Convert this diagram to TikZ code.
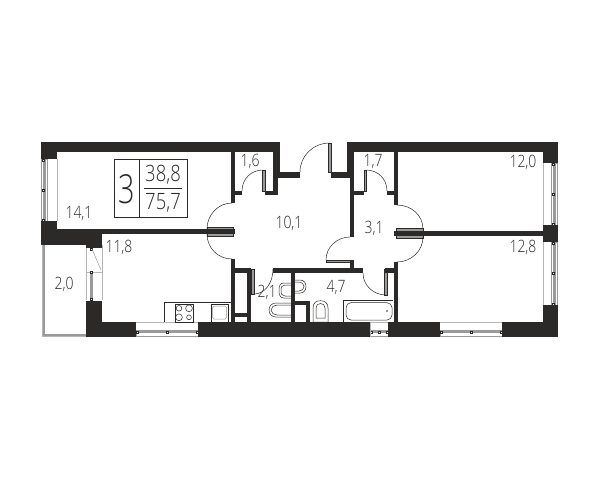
\documentclass[tikz,border=0pt]{standalone}
\usepackage{fontspec}
\setmainfont{Liberation Sans}
\newfontfamily\planfont[FakeStretch=0.82,UprightFont={* Light}]{Open Sans}
\newfontfamily\numfont[FakeStretch=0.72,UprightFont={* Light}]{Open Sans}
\definecolor{wallc}{HTML}{2B2A29}
\definecolor{leafc}{HTML}{9A9A9A}
\definecolor{sillc}{HTML}{B5B5B5}

% window seen from the side: sill x, glass x, y from, y to
\newcommand{\winv}[4]{
  \draw[sill] (#1,#3) -- (#1,#4);
  \draw[frame] (#2-1,#3) rectangle (#2+5,#4);
  \fill[leafc] (#2,#3) rectangle (#2+3,#4);
  \draw[pin,fill=white] (#2,#3) rectangle +(2,2);
  \draw[pin,fill=white] (#2,{(#3+#4)/2-1}) rectangle +(2,2);
  \draw[pin,fill=white] (#2,#4-2) rectangle +(2,2);
}
% window in the bottom wall: x from, x to
\newcommand{\winh}[2]{
  \draw[sill] (#1,322) -- (#2,322);
  \draw[frame] (#1,330) rectangle (#2,336.5);
  \fill[leafc] (#1,330.5) rectangle (#2,333);
  \draw[pin,fill=white] (#1,331) rectangle +(2,2);
  \draw[pin,fill=white] ({(#1+#2)/2-1},331) rectangle +(2,2);
  \draw[pin,fill=white] (#2-2,331) rectangle +(2,2);
}

\begin{document}
\begin{tikzpicture}[x=1pt,y=-1pt,
    wall/.style={fill=wallc,draw=none},
    leaf/.style={fill=leafc,draw=wallc,line width=0.4pt},
    swing/.style={draw=wallc,line width=0.5pt},
    sill/.style={draw=sillc,line width=0.6pt},
    frame/.style={draw=leafc,line width=0.5pt},
    pin/.style={draw=wallc,line width=0.4pt},
    fitting/.style={draw=wallc,line width=0.5pt},
    area/.style={anchor=base,text=wallc,font=\planfont\fontsize{17}{18}\selectfont},
    share/.style={anchor=base,text=wallc,font=\planfont\fontsize{22.5}{23}\selectfont}
    ]
\useasboundingbox (0,0) rectangle (600,480);

% balcony
\draw[draw=leafc,line width=1.2pt] (44,245) -- (44,335) -- (86,335);
\draw[sill] (42,245) -- (42,336.5) -- (86,336.5);

% windows
\winv{57}{42.5}{159}{221}
\winv{543}{552.5}{163}{225}
\winv{543}{552.5}{242}{305}
\winh{136}{198}
\winh{440}{502}
\winh{370}{388}
\draw[sill] (370,322) -- (370,337);
\draw[sill] (388,322) -- (388,337);

% balcony door
\draw[sill] (86,245) -- (86,300);
\draw[sill] (102,245) -- (102,300);
\draw[sill] (86,272) -- (102,272);
\fill[leafc] (89.5,272) rectangle (92.5,300);
\draw[pin,fill=white] (90,248) rectangle +(2,2);
\draw[pin,fill=white] (90,271) rectangle +(2,2);
\draw[pin,fill=white] (90,298) rectangle +(2,2);
\draw[draw=leafc,line width=0.5pt] (92,249) -- (101,270);

% door leaves
\draw[leaf] (207,227) rectangle (233,236);
\draw[leaf] (396,228) rectangle (423,238);
\draw[leaf] (328,143) rectangle (331,172);
\draw[leaf] (262.5,170) rectangle (265,191);
\draw[leaf] (364,170) rectangle (366.5,191);
\draw[leaf] (326,260) rectangle (350,262.5);
\draw[leaf] (384,269) rectangle (387,295);
\draw[leaf] (251,269) rectangle (254,294);

% door swings
\draw[swing] (300,172) .. controls (300,156) and (313,143) .. (330,143);
\draw[swing] (242,191) .. controls (242,179) and (251,170) .. (263,170);
\draw[swing] (387,191) .. controls (387,179) and (378,170) .. (366,170);
\draw[swing] (232,203) .. controls (218,203) and (207,215) .. (207,229);
\draw[swing] (207,234) .. controls (207,248) and (218,259) .. (232,259);
\draw[swing] (397,205) .. controls (411,205) and (423,215) .. (423,229);
\draw[swing] (423,237) .. controls (423,251) and (411,262) .. (397,262);
\draw[swing] (326,260) .. controls (326,247) and (337,237) .. (350,237);
\draw[swing] (363,273) .. controls (363,285) and (373,295) .. (386,295);
\draw[swing] (254,294) .. controls (265,294) and (273,283) .. (273,269);

% walls
\fill[wall] (41,142) rectangle (280,151.5);
\fill[wall] (347,142) rectangle (558,151.5);
\fill[wall] (41,142) rectangle (57,159);
\fill[wall] (543,142) rectangle (558,163);
\fill[wall] (41,221) rectangle (57,233);
\fill[wall] (41,229) rectangle (207,233.5);
\fill[wall] (41,233) rectangle (102,245);
\fill[wall] (86,245) rectangle (102,248);
\fill[wall] (86,300.5) rectangle (102,337);
\fill[wall] (86,322) rectangle (136,337);
\fill[wall] (198,322) rectangle (370,337);
\fill[wall] (388,322) rectangle (440,337);
\fill[wall] (502,322) rectangle (558,337);
\fill[wall] (543,305) rectangle (558,337);
\fill[wall] (543,225) rectangle (558,242);
\fill[wall] (207,229) rectangle (235,234);
\fill[wall] (394,231) rectangle (543,236);
\fill[wall] (231,151) rectangle (235,203);
\fill[wall] (235,191) rectangle (242,195);
\fill[wall] (265,191) rectangle (278,195);
\fill[wall] (273,151) rectangle (278,195);
\fill[wall] (273,151) rectangle (280,172);
\fill[wall] (273,172) rectangle (300,178);
\fill[wall] (331,172) rectangle (354,178);
\fill[wall] (347,151) rectangle (354,172);
\fill[wall] (350,172) rectangle (354,237);
\fill[wall] (354,191) rectangle (364,195);
\fill[wall] (387,191) rectangle (398,195);
\fill[wall] (394,151) rectangle (398,205);
\fill[wall] (394,262) rectangle (398,322);
\fill[wall] (385,268) rectangle (398,273);
\fill[wall] (273,268) rectangle (363,273);
\fill[wall] (350,260) rectangle (354,268);
\fill[wall] (231,259) rectangle (235,322);
\fill[wall] (231,268) rectangle (251,273);
\fill[wall] (247,268) rectangle (251,322);
\fill[wall] (235,312.5) rectangle (247,317);
\fill[wall] (291,268) rectangle (295,322);
\fill[wall] (295,301) rectangle (310,305);
\fill[wall] (306,301) rectangle (310,322);

% kitchen
\draw[fitting] (231,302.5) -- (164,302.5) -- (164,322);
\draw[fitting] (175,304) rectangle (193,322);
\draw[fitting] (179,308.3) circle (2.8);
\draw[fitting] (189,308.3) circle (3.4);
\draw[fitting] (179,317.3) circle (3.4);
\draw[fitting] (189,317.3) circle (2.4);
\draw[fitting] (211,304) rectangle (228,322);
\draw[fitting,rounded corners=1.5pt,draw=leafc] (212.5,306) rectangle (226.5,319);

% bathroom
\draw[fitting] (343,322) -- (343,300.7) -- (393,300.7);
\draw[fitting,rounded corners=5pt] (346,302.7) rectangle (392,320);
\fill[wallc] (387,311) circle (0.9);
\draw[fitting] (291,283) -- (284,283) .. controls (280,283) and (279,286) .. (279,290.5) .. controls (279,295) and (280,298) .. (284,298) -- (291,298);
\draw[fitting] (291,285) -- (285,285) .. controls (282,285) and (281,287) .. (281,290.5) .. controls (281,294) and (282,296) .. (285,296) -- (291,296);
\draw[fitting] (295,280) -- (300,280) .. controls (304,280) and (306,283) .. (306,286.5) .. controls (306,290) and (304,293) .. (300,293) -- (295,293);
\draw[fitting] (295,282) -- (299,282) .. controls (302,282) and (304,284) .. (304,286.5) .. controls (304,289) and (302,291) .. (299,291) -- (295,291);
\draw[fitting] (291,303) -- (276,303) .. controls (272,303) and (269,306) .. (269,310) .. controls (269,314) and (272,317) .. (276,317) -- (291,317);
\draw[fitting] (291,305) -- (277,305) .. controls (274,305) and (271,307) .. (271,310) .. controls (271,313) and (274,315) .. (277,315) -- (291,315);
\draw[fitting] (313,322) -- (313,308) .. controls (313,303) and (316,300.7) .. (320.5,300.7) .. controls (325,300.7) and (328,303) .. (328,308) -- (328,322) -- cycle;
\draw[fitting] (316,318) -- (316,308) .. controls (316,305) and (318,303.5) .. (320.5,303.5) .. controls (323,303.5) and (325,305) .. (325,308) -- (325,318) -- cycle;

% legend
\node[draw=wallc,line width=0.7pt,minimum width=72.5pt,minimum height=57.5pt,inner sep=0pt] (legend) at (150.75,188.25) {};
\coordinate (splittop) at (139,159.5);
\coordinate (splitbot) at (139,217);
\draw[draw=wallc,line width=0.7pt] (splittop) -- (splitbot);
\node[anchor=base,text=wallc,font=\numfont\fontsize{40}{41}\selectfont] (rooms) at (126.5,203.3) {3};
\coordinate (barl) at (144,188.7);
\coordinate (barr) at (182,188.7);
\draw[draw=wallc,line width=0.9pt] (barl) -- (barr);
\node[share] (living) at (163,181.7) {38,8};
\node[share] (total) at (163,209) {75,7};

% areas
\node[area] (a141) at (79,218.7) {14,1};
\node[area] (a118) at (119,252.6) {11,8};
\node[area] (a20) at (64,289.6) {2,0};
\node[area] (a16) at (250,166.6) {1,6};
\node[area] (a101) at (289,228.6) {10,1};
\node[area] (a17) at (373,166.6) {1,7};
\node[area] (a31) at (374,233.6) {3,1};
\node[area] (a21) at (267,297.6) {2,1};
\node[area] (a47) at (336,292.6) {4,7};
\node[area] (a120) at (523,167.6) {12,0};
\node[area] (a128) at (523,252.6) {12,8};
\end{tikzpicture}
\end{document}
